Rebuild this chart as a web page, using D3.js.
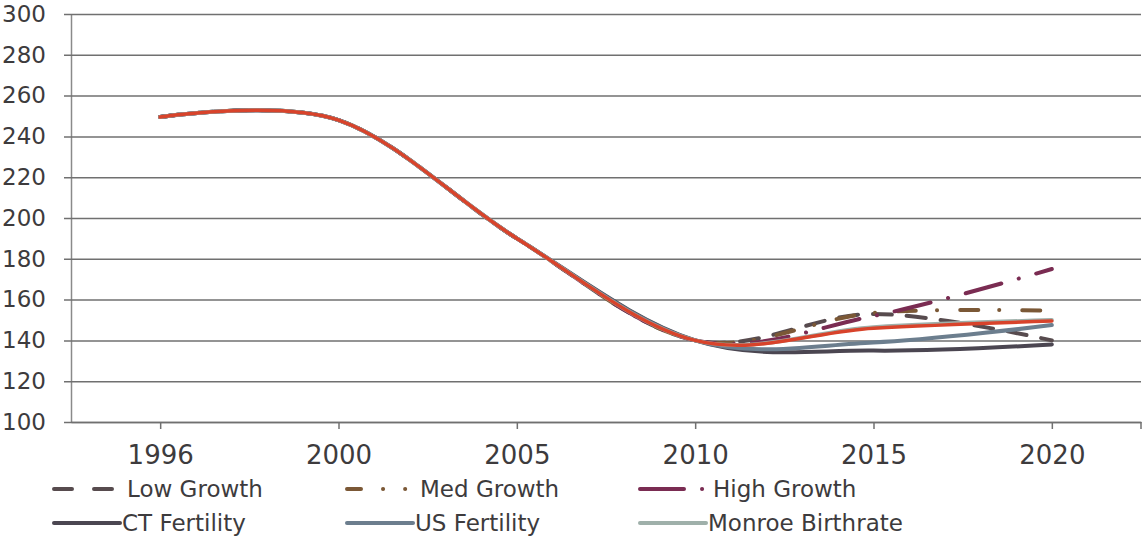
<!DOCTYPE html>
<html>
<head>
<meta charset="utf-8">
<script src="https://cdn.jsdelivr.net/npm/d3@7"></script>
<style>
    body { margin: 0; background: #fff; }
    svg { display: block; font-family: "DejaVu Sans", sans-serif; }
</style>
</head>
<body>
<svg id="chart" width="1145" height="538"></svg>
<script>
// categories on the x axis
const years = ["1996", "2000", "2005", "2010", "2015", "2020"];
const yTicks = [100, 120, 140, 160, 180, 200, 220, 240, 260, 280, 300];

// series values, one per year
const lowGrowth       = [249.5, 248, 190, 140, 153,   140];
const medGrowth       = [249.5, 248, 190, 140, 153.5, 154.5];
const highGrowth      = [249.5, 248, 190, 140, 152,   175];
const ctFertility     = [249.5, 248, 190, 140, 135,   138];
const usFertility     = [249.5, 248, 190, 140, 139,   147.5];
const monroeBirthrate = [249.5, 248, 190, 140, 146.5, 150];
const actual          = [249.5, 248, 190, 140, 146,   149.5];

const legendNames = ["Low Growth", "Med Growth", "High Growth", "CT Fertility", "US Fertility", "Monroe Birthrate"];

let series = [
    {name: "Low Growth", values: lowGrowth, color: "#574b4e", dash: "19,15", width: 4},
    {name: "Med Growth", values: medGrowth, color: "#7b5836", dash: "18,21,0.1,23", width: 4},
    {name: "High Growth", values: highGrowth, color: "#7a2c52", dash: "37,18,0.1,18", width: 4},
    {name: "CT Fertility", values: ctFertility, color: "#4b4651", dash: null, width: 4},
    {name: "US Fertility", values: usFertility, color: "#6c7e8e", dash: null, width: 4},
    {name: "Monroe Birthrate", values: monroeBirthrate, color: "#9fb0aa", dash: null, width: 4},
    {name: "Actual", values: actual, color: "#d8432b", dash: null, width: 3.5}
];

let svg = d3.select("#chart"),
    margin = {top: 14, right: 4, bottom: 116, left: 71},
    width = +svg.attr("width") - margin.left - margin.right,
    height = +svg.attr("height") - margin.top - margin.bottom,
    textColor = "#3d3b3d",
    gridColor = "#707070";

let x = d3.scalePoint().domain(years).range([margin.left, margin.left + width]).padding(0.5);
let y = d3.scaleLinear().domain([100, 300]).range([margin.top + height, margin.top]);

// gridlines + y labels
let yAxis = svg.append("g")
    .attr("transform", "translate(" + margin.left + ",0)")
    .call(d3.axisLeft(y).tickValues(yTicks).tickSize(-width).tickSizeOuter(0).tickPadding(25));
yAxis.select(".domain").attr("stroke", "#8a8a8a").attr("stroke-width", 1.5);
yAxis.selectAll(".tick line")
    .attr("x1", -7)
    .attr("stroke", gridColor)
    .attr("stroke-width", 1.5);
yAxis.selectAll(".tick text")
    .attr("fill", textColor)
    .attr("font-size", 23)
    .attr("font-family", "DejaVu Sans");

// x axis with ticks at the categories and at the right end
let xAxis = svg.append("g")
    .attr("transform", "translate(0," + (margin.top + height) + ")")
    .call(d3.axisBottom(x).tickSize(7).tickSizeOuter(0).tickPadding(17));
xAxis.select(".domain").attr("stroke", gridColor).attr("stroke-width", 1.5);
xAxis.selectAll(".tick line").attr("stroke", gridColor).attr("stroke-width", 1.5);
xAxis.selectAll(".tick text")
    .attr("fill", textColor)
    .attr("font-size", 26)
    .attr("font-family", "DejaVu Sans");
xAxis.append("line")
    .attr("x1", margin.left + width).attr("x2", margin.left + width)
    .attr("y1", 0).attr("y2", 7)
    .attr("stroke", gridColor).attr("stroke-width", 1.5);

// lines
let line = d3.line()
    .x(function (d, i) { return x(years[i]); })
    .y(function (d) { return y(d); })
    .curve(d3.curveCardinal.tension(0));

svg.append("g").selectAll("path")
    .data(series)
    .enter().append("path")
    .attr("fill", "none")
    .attr("stroke", function (d) { return d.color; })
    .attr("stroke-width", function (d) { return d.width; })
    .attr("stroke-dasharray", function (d) { return d.dash; })
    .attr("stroke-linecap", "round")
    .attr("stroke-linejoin", "round")
    .attr("d", function (d) { return line(d.values); });

// legend, 3 columns x 2 rows
let legendItems = series.filter(function (s) { return legendNames.includes(s.name); });
let legend = svg.append("g").selectAll("g")
    .data(legendItems)
    .enter().append("g")
    .attr("transform", function (d, i) {
        return "translate(" + (52 + (i % 3) * 293) + "," + (489 + Math.floor(i / 3) * 34) + ")";
    });

legend.append("line")
    .attr("x1", 2).attr("x2", function (d) { return d.dash ? 66 : 68; })
    .attr("y1", 0).attr("y2", 0)
    .attr("stroke", function (d) { return d.color; })
    .attr("stroke-width", 4)
    .attr("stroke-linecap", "round")
    .attr("stroke-dasharray", function (d) {
        if (d.name === "Low Growth") return "18,22";
        if (d.name === "Med Growth") return "14,22,0.1,22,0.1,30";
        if (d.name === "High Growth") return "44,18,0.1,30";
        return null;
    });

legend.append("text")
    .attr("x", function (d) { return d.dash ? 75 : 70; })
    .attr("y", 0)
    .attr("dy", "0.36em")
    .attr("fill", textColor)
    .attr("font-size", 23)
    .text(function (d) { return d.name; });
</script>
</body>
</html>
